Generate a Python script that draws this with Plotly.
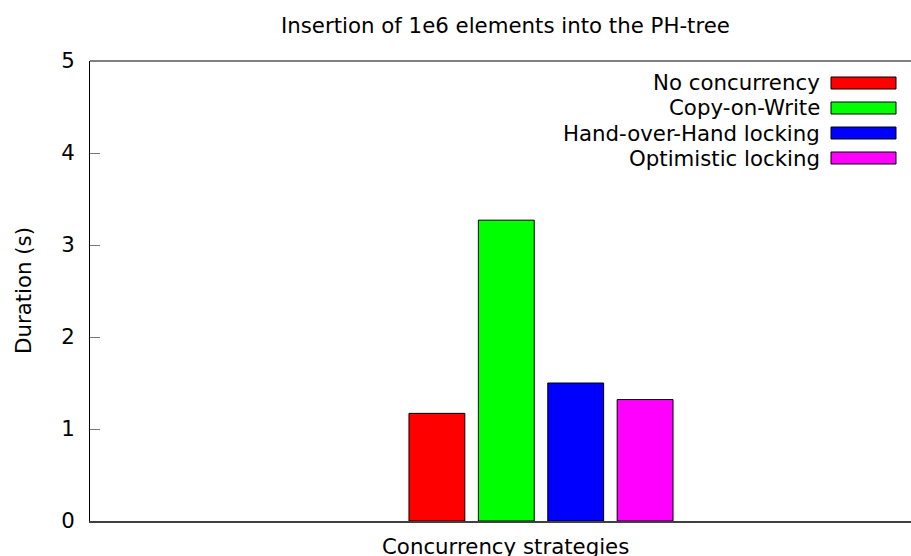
import plotly.graph_objects as go

# Benchmark: inserting 1e6 elements into the PH-tree, per concurrency strategy
strategies = ["No concurrency", "Copy-on-Write", "Hand-over-Hand locking", "Optimistic locking"]
durations = [1.17, 3.27, 1.50, 1.32]
colors = ["#ff0000", "#00ff00", "#0000ff", "#ff00ff"]
y_ticks = [0, 1, 2, 3, 4, 5]

W, H = 911, 556
L, R, T, B = 90, 0, 61, 35
PW, PH = W - L - R, H - T - B
FONT = "DejaVu Sans"
FS = 21.3


def px_x(px):
    return (px - L) / PW


def px_y(py):
    return 1 - (py - T) / PH


fig = go.Figure()
for name, val, col in zip(strategies, durations, colors):
    fig.add_trace(go.Bar(
        x=[""], y=[val], name=name,
        marker=dict(color=col, line=dict(color="black", width=1)),
        showlegend=False,
    ))

# Key drawn on the right, with the label before the colour swatch
annotations = []
shapes = []
row_y = [83, 108, 133, 158]
for name, col, ry in zip(strategies, colors, row_y):
    annotations.append(dict(
        text=name, x=px_x(822), y=px_y(ry), xref="paper", yref="paper",
        xanchor="right", yanchor="middle", showarrow=False,
        font=dict(family=FONT, size=FS, color="black"),
    ))
    shapes.append(dict(
        type="rect", xref="paper", yref="paper",
        x0=px_x(831), x1=px_x(896), y0=px_y(ry + 6), y1=px_y(ry - 6),
        fillcolor=col, line=dict(color="black", width=1),
    ))

# Top border of the frame
shapes.append(dict(type="line", xref="paper", yref="paper", x0=0, x1=1, y0=1, y1=1,
                   line=dict(color="black", width=1)))

annotations += [
    dict(text="Insertion of 1e6 elements into the PH-tree", x=px_x(506), y=px_y(26),
         xref="paper", yref="paper", xanchor="center", yanchor="middle", showarrow=False,
         font=dict(family=FONT, size=FS, color="black")),
    dict(text="Duration (s)", x=px_x(23), y=0.5, textangle=-90,
         xref="paper", yref="paper", xanchor="center", yanchor="middle", showarrow=False,
         font=dict(family=FONT, size=FS, color="black")),
    dict(text="Concurrency strategies", x=px_x(506), y=px_y(546),
         xref="paper", yref="paper", xanchor="center", yanchor="middle", showarrow=False,
         font=dict(family=FONT, size=FS, color="black")),
]

fig.update_layout(
    width=W, height=H,
    margin=dict(l=L, r=R, t=T, b=B, pad=0),
    paper_bgcolor="white", plot_bgcolor="white",
    barmode="group", bargap=0.5, bargroupgap=0.195,
    font=dict(family=FONT, size=FS, color="black"),
    annotations=annotations, shapes=shapes,
    showlegend=False,
)
fig.update_xaxes(
    type="category", range=[-451 / 555.2, 370 / 555.2],
    showticklabels=False, ticks="", showgrid=False, zeroline=False,
    showline=True, linecolor="#404040", linewidth=2,
)
fig.update_yaxes(
    range=[0, 5], tickvals=y_ticks, ticktext=[str(v) for v in y_ticks],
    ticks="inside", ticklen=10, tickcolor="#777777", tickwidth=1,
    showgrid=False, zeroline=False, showline=True, linecolor="black", linewidth=1,
    ticklabelstandoff=10, tickfont=dict(family=FONT, size=FS, color="black"),
)

fig.write_html("out.html")
